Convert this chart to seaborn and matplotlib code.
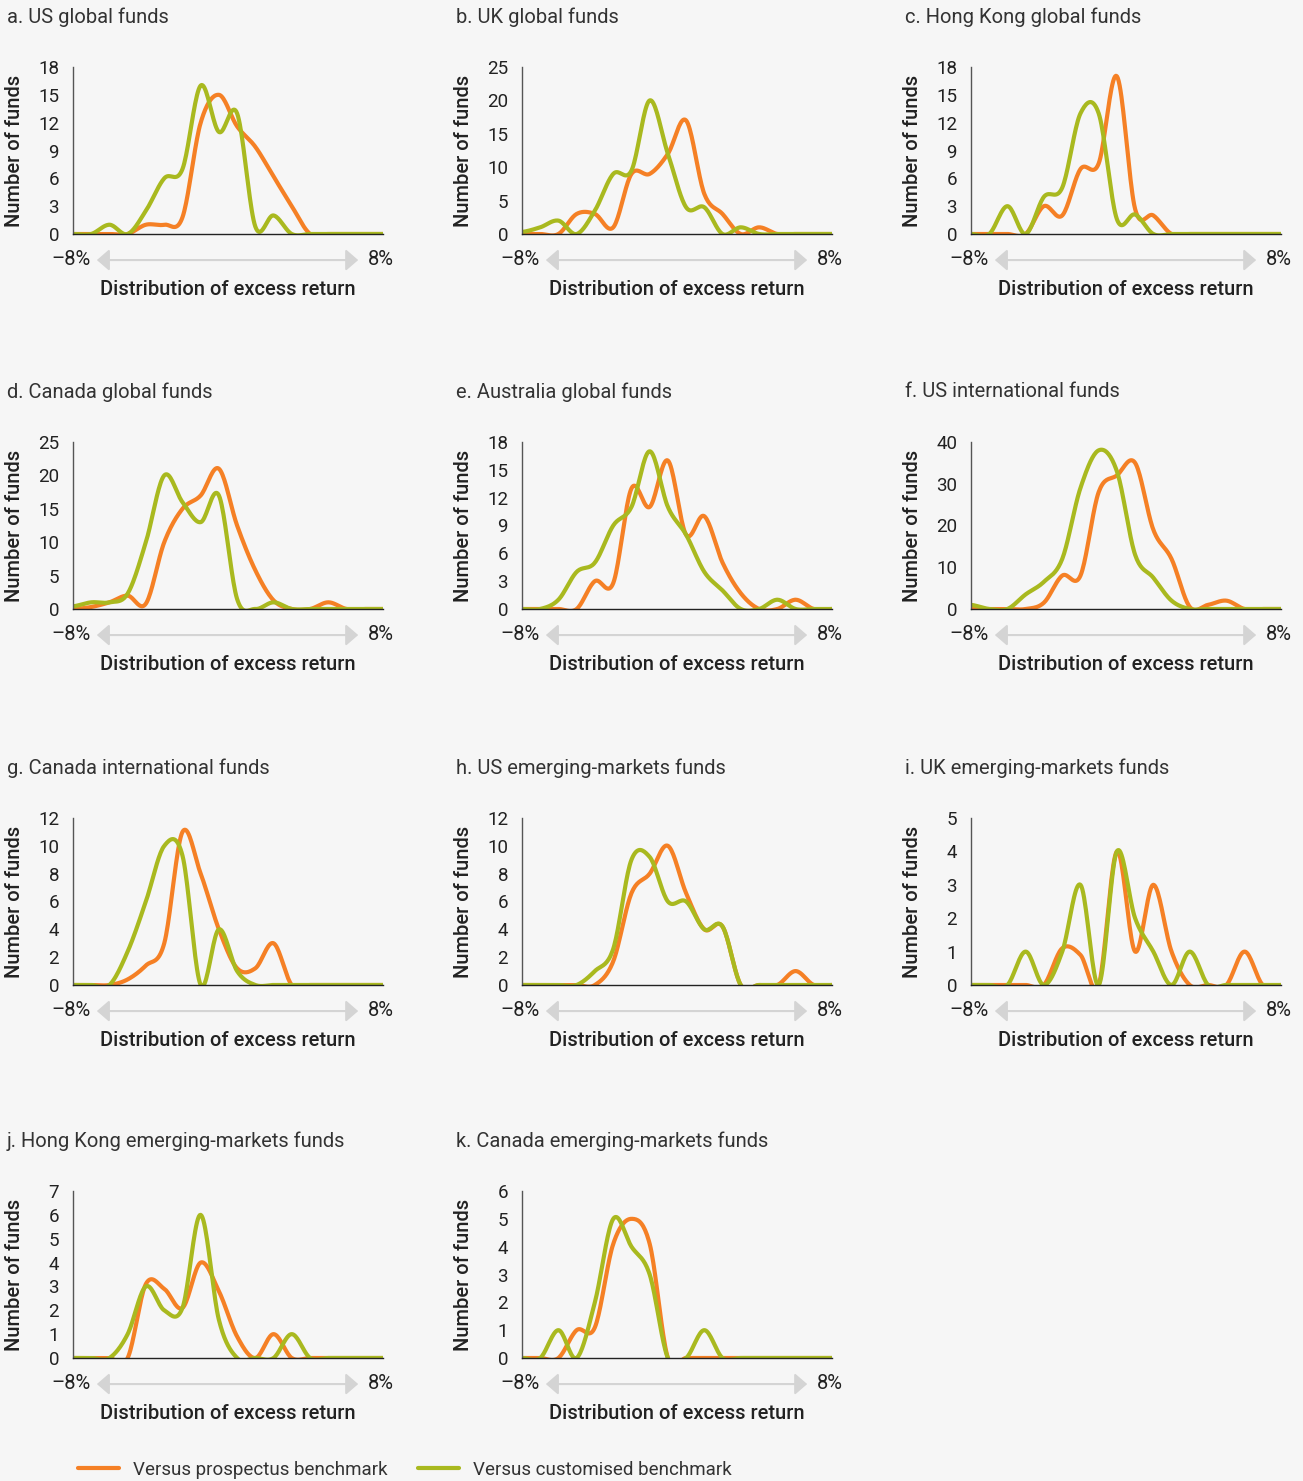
import numpy as np
import pandas as pd
import seaborn as sns
import matplotlib.pyplot as plt
from matplotlib.lines import Line2D

# bin centres of the excess-return distribution, in percent
bins = [-8.0, -7.06, -6.12, -5.18, -4.24, -3.29, -2.35, -1.41, -0.47,
        0.47, 1.41, 2.35, 3.29, 4.24, 5.18, 6.12, 7.06, 8.0]

titles = ["a. US global funds", "b. UK global funds", "c. Hong Kong global funds",
          "d. Canada global funds", "e. Australia global funds", "f. US international funds",
          "g. Canada international funds", "h. US emerging-markets funds",
          "i. UK emerging-markets funds", "j. Hong Kong emerging-markets funds",
          "k. Canada emerging-markets funds"]

# number of funds per bin, versus prospectus benchmark
prospectus_a = [0, 0, 0, 0, 1, 1, 1.8, 12, 15, 11.6, 9.4, 6.2, 3, 0, 0, 0, 0, 0]
prospectus_b = [0, 0, 0, 3, 3, 1, 9, 9, 12, 17, 6, 3, 0, 1, 0, 0, 0, 0]
prospectus_c = [0, 0, 0, 0, 3, 2, 7, 7.6, 17, 2.7, 2, 0, 0, 0, 0, 0, 0, 0]
prospectus_d = [0, 0.3, 1, 2, 0.8, 10, 15, 17, 21, 12.5, 5.8, 1.3, 0, 0, 1, 0, 0, 0]
prospectus_e = [0, 0, 0, 0, 3, 2.8, 13, 11, 16, 8, 10, 5, 1.7, 0, 0, 1, 0, 0]
prospectus_f = [0, 0, 0, 0, 1.5, 8, 8, 28, 32, 35, 19, 12, 0.5, 1, 2, 0, 0, 0]
prospectus_g = [0, 0, 0, 0.4, 1.4, 3, 11, 8, 4, 1.2, 1.2, 3, 0, 0, 0, 0, 0, 0]
prospectus_h = [0, 0, 0, 0, 0, 1.7, 6.6, 8, 10, 6.6, 4, 4.2, 0, 0, 0, 1, 0, 0]
prospectus_i = [0, 0, 0, 0, 0, 1.1, 0.9, 0, 4, 1, 3, 1, 0, 0, 0, 1, 0, 0]
prospectus_j = [0, 0, 0, 0, 3.1, 2.9, 2.1, 4, 2.8, 0.9, 0, 1, 0, 0, 0, 0, 0, 0]
prospectus_k = [0, 0, 0, 1, 1.1, 4.1, 5, 4.1, 0, 0, 0, 0, 0, 0, 0, 0, 0, 0]

# number of funds per bin, versus customised benchmark
customised_a = [0, 0, 1, 0, 2.5, 6, 7, 16, 11, 13, 0.8, 2, 0, 0, 0, 0, 0, 0]
customised_b = [0.3, 1, 2, 0, 3.5, 9, 9.5, 20, 12, 4, 4, 0, 1, 0, 0, 0, 0, 0]
customised_c = [0, 0, 3, 0, 4, 5, 13, 13, 1.6, 2.1, 0, 0, 0, 0, 0, 0, 0, 0]
customised_d = [0.4, 1, 1, 2.3, 10, 20, 16, 13, 17, 1.5, 0, 1, 0, 0, 0, 0, 0, 0]
customised_e = [0, 0, 1, 4, 5, 9, 11, 17, 11, 8, 4, 2, 0, 0, 1, 0, 0, 0]
customised_f = [1, 0, 0, 3.5, 6.5, 12, 29, 38, 33, 13, 7.5, 2, 0, 0, 0, 0, 0, 0]
customised_g = [0, 0, 0, 2.4, 6, 10, 9.3, 0, 4, 1, 0, 0, 0, 0, 0, 0, 0, 0]
customised_h = [0, 0, 0, 0, 1, 2.6, 9, 9.2, 6, 6, 4, 4.2, 0, 0, 0, 0, 0, 0]
customised_i = [0, 0, 0, 1, 0, 1, 3, 0, 4, 2, 1, 0, 1, 0, 0, 0, 0, 0]
customised_j = [0, 0, 0, 1, 3, 2, 2.1, 6, 1.6, 0, 0, 0, 1, 0, 0, 0, 0, 0]
customised_k = [0, 0, 1, 0, 2, 5, 4, 3, 0, 0, 1, 0, 0, 0, 0, 0, 0, 0]

prospectus = [prospectus_a, prospectus_b, prospectus_c, prospectus_d, prospectus_e, prospectus_f,
              prospectus_g, prospectus_h, prospectus_i, prospectus_j, prospectus_k]
customised = [customised_a, customised_b, customised_c, customised_d, customised_e, customised_f,
              customised_g, customised_h, customised_i, customised_j, customised_k]

y_max = [18, 25, 18, 25, 18, 40, 12, 12, 5, 7, 6]
y_step = [3, 5, 3, 5, 3, 10, 2, 2, 1, 1, 1]

ORANGE = "#f58025"
GREEN = "#a9b91f"
BG = "#f6f6f6"
TXT = "#222222"


def smooth(xs, ys, n=20):
    # catmull-rom spline through the bin values, like the original's curved lines
    xs = np.asarray(xs, float)
    ys = np.asarray(ys, float)
    yp = np.concatenate([[ys[0]], ys, [ys[-1]]])
    out_x, out_y = [], []
    for i in range(len(xs) - 1):
        t = np.linspace(0, 1, n, endpoint=False)
        p0, p1, p2, p3 = yp[i], yp[i + 1], yp[i + 2], yp[i + 3]
        m1 = (p2 - p0) / 2
        m2 = (p3 - p1) / 2
        h00 = 2 * t**3 - 3 * t**2 + 1
        h10 = t**3 - 2 * t**2 + t
        h01 = -2 * t**3 + 3 * t**2
        h11 = t**3 - t**2
        out_y.append(h00 * p1 + h10 * m1 + h01 * p2 + h11 * m2)
        out_x.append(xs[i] + t * (xs[i + 1] - xs[i]))
    out_x.append([xs[-1]])
    out_y.append([ys[-1]])
    return np.concatenate(out_x), np.concatenate(out_y)


sns.set_style("white")
plt.rcParams["font.family"] = ["Roboto", "DejaVu Sans"]
plt.rcParams["font.size"] = 13

W, H = 1303, 1481
fig = plt.figure(figsize=(W / 100, H / 100), dpi=100, facecolor=BG)

col_left = [73, 522, 971]
row_top = [67, 442, 818, 1191]
aw, ah = 310, 167

for i, title in enumerate(titles):
    r, c = divmod(i, 3)
    ax = fig.add_axes([col_left[c] / W, 1 - (row_top[r] + ah) / H, aw / W, ah / H])
    ax.set_facecolor(BG)

    frames = []
    for name, vals in [("Versus prospectus benchmark", prospectus[i]),
                       ("Versus customised benchmark", customised[i])]:
        sx, sy = smooth(bins, vals)
        frames.append(pd.DataFrame({"x": sx, "y": sy, "series": name}))
    df = pd.concat(frames, ignore_index=True)

    sns.lineplot(data=df, x="x", y="y", hue="series", palette=[ORANGE, GREEN],
                 estimator=None, sort=False, linewidth=3, legend=False, ax=ax)

    ax.set_xlim(-8, 8)
    ax.set_ylim(0, y_max[i])
    ax.set_yticks(np.arange(0, y_max[i] + 0.1, y_step[i]))
    ax.set_xticks([-8, 8])
    ax.set_xticklabels([])
    ax.tick_params(axis="y", direction="out", length=7, width=1, color="#555555",
                   labelsize=13.5, labelcolor=TXT, pad=3)
    ax.tick_params(axis="x", direction="out", length=10, width=1, color="#555555")
    for s in ["top", "right"]:
        ax.spines[s].set_visible(False)
    ax.spines["left"].set_color("#555555")
    ax.spines["bottom"].set_color("#222222")
    ax.spines["left"].set_linewidth(1)
    ax.spines["bottom"].set_linewidth(1)
    ax.spines["left"].set_zorder(3)
    ax.spines["bottom"].set_zorder(3)

    ax.set_xlabel("")
    ax.set_ylabel("Number of funds", fontsize=14.5, weight="medium", color=TXT)
    ax.yaxis.set_label_coords(-0.158, 0.5)

    ax.text(-0.005, -0.15, "\u20138%", transform=ax.transAxes, ha="center", va="center",
            fontsize=14.5, color=TXT)
    ax.text(0.994, -0.15, "8%", transform=ax.transAxes, ha="center", va="center",
            fontsize=14.5, color=TXT)
    ax.annotate("", xy=(0.077, -0.156), xytext=(0.92, -0.156),
                xycoords="axes fraction", textcoords="axes fraction",
                arrowprops=dict(arrowstyle="<|-|>,head_length=0.75,head_width=0.65",
                                color="#d4d4d4", lw=1.5, mutation_scale=10,
                                shrinkA=0, shrinkB=0))
    ax.text(0.5, -0.33, "Distribution of excess return", transform=ax.transAxes,
            ha="center", va="center", fontsize=14.5, weight="medium", color=TXT)
    ax.text(-0.213, 1.30, title, transform=ax.transAxes, ha="left", va="center",
            fontsize=14.5, weight="normal", color="#333333")

handles = [Line2D([], [], color=ORANGE, lw=3), Line2D([], [], color=GREEN, lw=3)]
fig.legend(handles, ["Versus prospectus benchmark", "Versus customised benchmark"],
           loc="center left", bbox_to_anchor=(0.047, 0.0075), ncol=2, frameon=False,
           fontsize=13.5, handlelength=2.2, handletextpad=0.75, columnspacing=1.6,
           labelcolor="#333333")

plt.savefig("out.png", dpi=100, facecolor=BG)
